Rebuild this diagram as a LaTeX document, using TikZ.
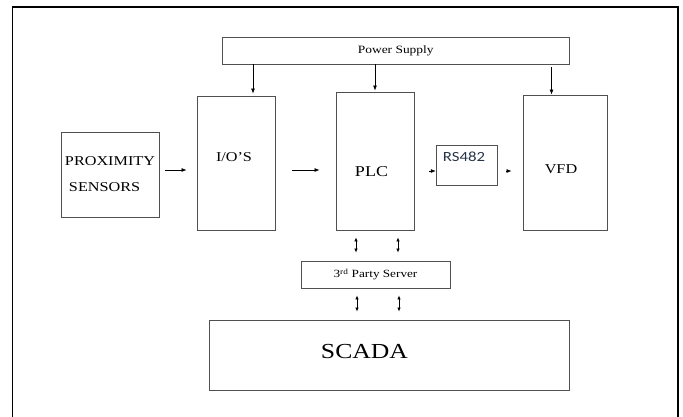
\documentclass[tikz,border=0pt]{standalone}
\usepackage{fontspec}
\setmainfont{Liberation Serif}[FakeStretch=1.2]
\newfontfamily\rsfont{Carlito}[FakeStretch=1.2]
\usetikzlibrary{arrows.meta}
\definecolor{boxline}{RGB}{80,80,80}
\definecolor{rstext}{RGB}{40,52,72}

\begin{document}
\begin{tikzpicture}[
  x=1pt, y=-1pt,
  every node/.style={inner sep=0pt, align=center},
  blk/.style ={draw=boxline, line width=0.9pt},
  txt/.style ={font=\fontsize{13.5}{16}\selectfont},
  arr/.style ={-{Latex[length=5pt,width=4pt]}, line width=0.7pt},
  dbl/.style ={{Latex[length=4pt,width=3.5pt]}-{Latex[length=4pt,width=3.5pt]}, line width=0.7pt}
]
\useasboundingbox (0,0) rectangle (683,416);

% outer frame
\draw[line width=1.6pt] (12.5,420) -- (12.5,7) -- (678,7) -- (678,420);

% blocks
\node[blk, minimum width=346.5pt, minimum height=27pt, font=\fontsize{11.2}{13}\selectfont]
  (pwr) at (395.75,50.5) {Power Supply};
\node[blk, minimum width=98pt, minimum height=85pt, align=left, font=\fontsize{13.5}{26}\selectfont]
  (prox) at (110,174.5) {PROXIMITY\\\hspace{4pt}SENSORS};
\node[blk, minimum width=78pt,  minimum height=134pt] (io)  at (236,163)   {};
\node[blk, minimum width=78pt,  minimum height=138pt] (plc) at (375,161)   {};
\node[blk, minimum width=61.5pt, minimum height=40pt] (rs)  at (467,165)   {};
\node[blk, minimum width=84pt,  minimum height=135pt] (vfd) at (565,162.5) {};
\node[blk, minimum width=149pt, minimum height=27pt, font=\fontsize{11}{13}\selectfont]
  (srv) at (375.5,274.5) {3\textsuperscript{rd} Party Server};
\node[blk, minimum width=360pt, minimum height=70pt] (scada) at (389,355) {};

% labels
\node[txt] (iolbl)  at (234,157)   {I/O’S};
\node[txt, font=\fontsize{15}{18}\selectfont] (plclbl) at (371.5,171.5) {PLC};
\node[txt] (vfdlbl) at (561,169.5) {VFD};
\node[font=\rsfont\fontsize{14}{16}\selectfont, text=rstext] (rslbl) at (464,157) {RS482};
\node[font=\fontsize{21.4}{24}\selectfont] (scadalbl) at (364.5,352) {SCADA};

% power feeds
\draw[arr, shorten >=2pt] (pwr.south -| 253,0) -- (io.north -| 253,0);
\draw[arr, shorten >=1pt] (pwr.south -| plc.north) -- (plc.north);
\draw[arr, shorten <=3pt] (pwr.south -| 551.5,0) -- (vfd.north -| 551.5,0);

% signal chain
\draw[arr, shorten <=6pt, shorten >=10pt] (prox.east |- 0,170) -- (io.west |- 0,170);
\draw[arr, shorten <=17pt, shorten >=16pt] (io.east |- 0,170) -- (plc.west |- 0,170);
\draw[arr, shorten <=15pt] (plc.east |- 0,171) -- (rs.west |- 0,171);
\draw[arr, shorten <=7.5pt, shorten >=11pt] (rs.east |- 0,171) -- (vfd.west |- 0,171);

% data links
\foreach \px in {356,398}{
  \draw[dbl, shorten <=7pt, shorten >=8pt] (plc.south -| \px,0) -- (srv.north -| \px,0);
}
\foreach \px in {357,399}{
  \draw[dbl, shorten <=7pt, shorten >=8pt] (srv.south -| \px,0) -- (scada.north -| \px,0);
}

\end{tikzpicture}
\end{document}
